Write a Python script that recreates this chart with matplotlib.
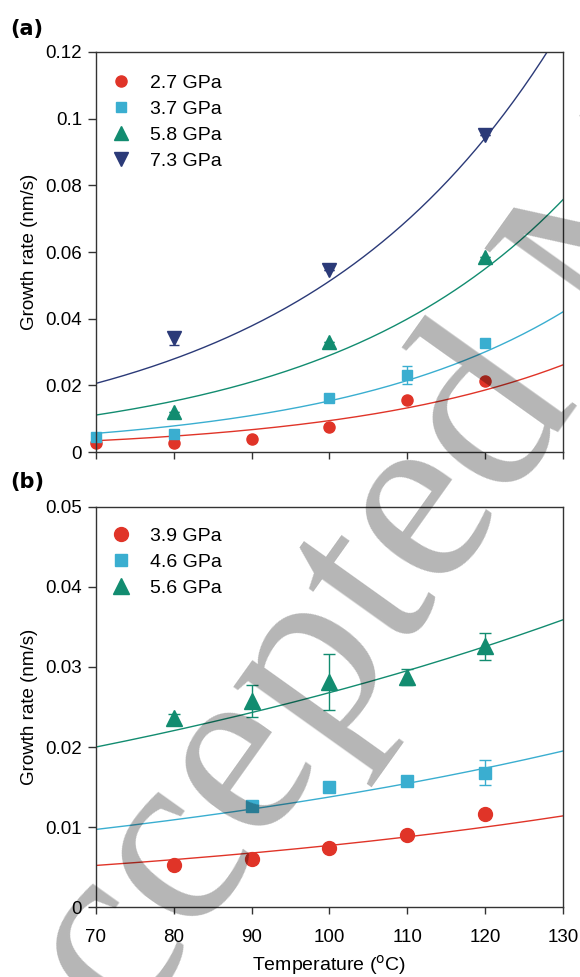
import numpy as np
import matplotlib
matplotlib.use('Agg')
import matplotlib.pyplot as plt

plt.rcParams['font.family'] = ['Liberation Sans', 'DejaVu Sans']

# panel (a) data
labels_a = ['2.7 GPa', '3.7 GPa', '5.8 GPa', '7.3 GPa']
x_a = [[70, 80, 90, 100, 110, 120],
       [70, 80, 100, 110, 120],
       [80, 100, 120],
       [80, 100, 120]]
y_a = [[0.0027, 0.0027, 0.0038, 0.0075, 0.0156, 0.0213],
       [0.0044, 0.0053, 0.0163, 0.0231, 0.0326],
       [0.0121, 0.0331, 0.0586],
       [0.0341, 0.0546, 0.0951]]
err_a = [[0, 0, 0, 0, 0, 0],
         [0, 0, 0, 0.0027, 0],
         [0, 0, 0],
         [0.0020, 0, 0]]
# exponential fit parameters: rate = amp * exp(k * (T - 70))
amp_a = [0.0034, 0.0056, 0.0111, 0.0206]
k_a = [0.0340, 0.0336, 0.0320, 0.0304]

# panel (b) data
labels_b = ['3.9 GPa', '4.6 GPa', '5.6 GPa']
x_b = [[80, 90, 100, 110, 120],
       [90, 100, 110, 120],
       [80, 90, 100, 110, 120]]
y_b = [[0.0052, 0.0060, 0.0074, 0.0090, 0.0116],
       [0.0126, 0.0150, 0.0158, 0.0168],
       [0.0236, 0.0257, 0.0281, 0.0288, 0.0326]]
err_b = [[0, 0, 0, 0, 0],
         [0.0006, 0, 0, 0.0016],
         [0.0005, 0.0020, 0.0035, 0.0010, 0.0017]]
amp_b = [0.0052, 0.0097, 0.0200]
k_b = [0.01307, 0.01164, 0.00975]

colors_a = ['#e03428', '#3aaed0', '#128c70', '#2b3a78']
markers_a = ['o', 's', '^', 'v']
ms_a = [8, 7.5, 10, 10]
colors_b = ['#e03428', '#3aaed0', '#128c70']
markers_b = ['o', 's', '^']
ms_b = [10, 8.5, 11]

fig = plt.figure(figsize=(5.8, 9.77), dpi=100)
ax1 = fig.add_axes([0.1655, 0.5373, 0.8052, 0.4095])
ax2 = fig.add_axes([0.1655, 0.0716, 0.8052, 0.4095])

T = np.linspace(70, 130, 200)


def style(ax, ymax, yticks, show_x):
    ax.set_xlim(70, 130)
    ax.set_ylim(0, ymax)
    ax.set_xticks([70, 80, 90, 100, 110, 120, 130])
    ax.set_yticks(yticks)
    ax.set_yticklabels(['%g' % t for t in yticks])
    if not show_x:
        ax.set_xticklabels([])
    for s in ax.spines.values():
        s.set_color('#333333')
        s.set_linewidth(1.0)
    ax.tick_params(axis='y', direction='out', length=6, width=1, color='#333333',
                   labelsize=13.5, pad=4)
    ax.tick_params(axis='x', direction='out', length=5, width=1, color='#333333',
                   labelsize=13.5, pad=11)
    ax.set_ylabel('Growth rate (nm/s)', fontsize=13.5, labelpad=5)


def legend(ax, top):
    ax.legend(loc='upper left', bbox_to_anchor=(0.0328, top), frameon=False, fontsize=14,
              handlelength=1.0, handletextpad=1.0, labelspacing=0.43,
              borderaxespad=0, borderpad=0)


for i in range(4):
    ax1.plot(T, amp_a[i] * np.exp(k_a[i] * (T - 70)), color=colors_a[i], lw=1.0)
    ax1.errorbar(x_a[i], y_a[i], yerr=err_a[i], fmt='none', ecolor=colors_a[i],
                 capsize=3.5, elinewidth=1, capthick=1)
    ax1.plot(x_a[i], y_a[i], markers_a[i], color=colors_a[i], ms=ms_a[i],
             label=labels_a[i], clip_on=False)
style(ax1, 0.12, [0, 0.02, 0.04, 0.06, 0.08, 0.1, 0.12], False)
legend(ax1, 0.944)

for i in range(3):
    ax2.plot(T, amp_b[i] * np.exp(k_b[i] * (T - 70)), color=colors_b[i], lw=1.0)
    ax2.errorbar(x_b[i], y_b[i], yerr=err_b[i], fmt='none', ecolor=colors_b[i],
                 capsize=4.5, elinewidth=1, capthick=1)
    ax2.plot(x_b[i], y_b[i], markers_b[i], color=colors_b[i], ms=ms_b[i],
             label=labels_b[i])
style(ax2, 0.05, [0, 0.01, 0.02, 0.03, 0.04, 0.05], True)
ax2.set_xlabel('Temperature ($^\\mathrm{o}$C)', fontsize=14, labelpad=4.5)
legend(ax2, 0.9485)

fig.text(0.017, 0.970, '(a)', fontsize=15, fontweight='bold', family='DejaVu Sans', va='center')
fig.text(0.017, 0.507, '(b)', fontsize=15, fontweight='bold', family='DejaVu Sans', va='center')

# watermark
fig.text(0.039, -0.211, 'Accepted Manuscript', family='Liberation Serif', fontsize=183,
         rotation=54.5, rotation_mode='anchor', ha='left', va='baseline',
         color='black', alpha=0.29, zorder=10)

fig.savefig('out.png', dpi=100)
